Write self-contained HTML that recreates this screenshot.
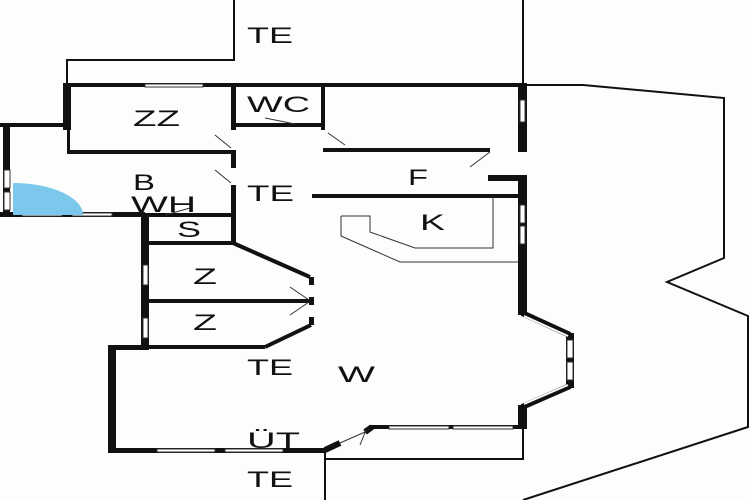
<!DOCTYPE html>
<html><head><style>
body{margin:0;background:#fff;}
svg{display:block;}
text{font-family:"Liberation Sans",sans-serif;font-size:22px;fill:#111;}
</style></head><body>
<svg width="750" height="500" viewBox="0 0 750 500">
<rect width="750" height="500" fill="#fdfdfd"/>
<g fill="none" stroke="#111" stroke-width="2">
<polyline points="67,85 67,60 234,60 234,0"/>
<line x1="523" y1="0" x2="523" y2="85"/>
<polyline points="527,85 583,85 724,98 724,258 667,282 748,316 748,427 523,500"/>
<polyline points="325,450 325,500"/>
<polyline points="325,459 523,459 523,427"/>
</g>
<g fill="none" stroke="#111" stroke-width="4">
<line x1="63" y1="85" x2="527" y2="85"/>
<line x1="67" y1="152" x2="233" y2="152"/>
<line x1="0" y1="125" x2="70" y2="125"/>
<line x1="233" y1="125" x2="323" y2="125"/>
<line x1="323" y1="150" x2="490" y2="150"/>
<line x1="145" y1="243" x2="233" y2="243"/>
<line x1="145" y1="301" x2="311" y2="301"/>
<line x1="108" y1="347" x2="265" y2="347"/>
<line x1="233" y1="243" x2="310" y2="277"/>
<line x1="265" y1="347" x2="311" y2="325"/>
<line x1="312" y1="196" x2="520" y2="196"/>
<line x1="145" y1="215" x2="233" y2="215"/>
<line x1="370" y1="427" x2="522" y2="427"/>
</g>
<g fill="#111">
<rect x="63" y="85" width="8" height="45"/>
<rect x="67" y="85" width="3" height="67"/>
<rect x="3" y="125" width="7" height="92"/>
<rect x="0" y="212" width="145" height="5"/>
<rect x="231" y="85" width="5" height="45"/>
<rect x="231" y="150" width="5" height="18"/>
<rect x="231" y="185" width="5" height="58"/>
<rect x="321" y="85" width="4" height="45"/>
<rect x="141" y="215" width="8" height="135"/>
<rect x="108" y="345" width="8" height="107"/>
<rect x="108" y="345" width="37" height="5"/>
<rect x="108" y="448" width="217" height="5"/>
<rect x="309" y="277" width="5" height="8"/>
<rect x="309" y="297" width="5" height="8"/>
<rect x="309" y="317" width="5" height="8"/>
<rect x="518" y="85" width="9" height="67"/>
<rect x="488" y="175" width="39" height="6"/>
<rect x="518" y="175" width="9" height="140"/>
<rect x="566" y="333" width="8" height="55"/>
<rect x="518" y="405" width="9" height="24"/>
</g>
<g stroke="#111" stroke-width="6" fill="none">
<line x1="522" y1="313" x2="570" y2="335"/>
<line x1="570" y1="386" x2="522" y2="407"/>
<line x1="325" y1="450" x2="340" y2="443"/>
<line x1="365" y1="432" x2="372" y2="427"/>
</g>
<g stroke="#fff" stroke-width="2" fill="none">
<line x1="524" y1="316" x2="568" y2="336"/>
<line x1="568" y1="385" x2="524" y2="404"/>
</g>
<g fill="#fff" stroke="#333" stroke-width="1">
<rect x="4" y="170" width="6" height="18"/><rect x="4" y="192" width="6" height="18"/>
<rect x="22" y="213" width="40" height="3"/><rect x="72" y="213" width="40" height="3"/>
<rect x="143" y="265" width="5" height="20"/><rect x="143" y="318" width="5" height="20"/>
<rect x="145" y="84" width="58" height="3"/>
<rect x="157" y="449" width="58" height="3"/><rect x="225" y="449" width="58" height="3"/>
<rect x="389" y="426" width="60" height="3"/><rect x="453" y="426" width="60" height="3"/>
<rect x="520" y="100" width="5" height="22"/>
<rect x="520" y="205" width="5" height="18"/><rect x="520" y="226" width="5" height="18"/>
<rect x="567" y="340" width="6" height="18"/><rect x="567" y="362" width="6" height="18"/>
</g>
<path d="M13,183 A70,32 0 0 1 83,215 L13,215 Z" fill="#7cc8ec"/>
<g stroke="#333" stroke-width="1" fill="none">
<line x1="215" y1="135" x2="231" y2="148"/>
<line x1="215" y1="170" x2="231" y2="183"/>
<line x1="265" y1="118" x2="295" y2="124"/>
<line x1="328" y1="133" x2="345" y2="145"/>
<line x1="470" y1="167" x2="490" y2="152"/>
<line x1="165" y1="215" x2="190" y2="208"/>
<line x1="290" y1="287" x2="309" y2="300"/>
<line x1="290" y1="315" x2="309" y2="302"/>
<line x1="340" y1="443" x2="365" y2="432"/>
<line x1="360" y1="445" x2="366" y2="430"/>
<polyline points="341,216 370,216 370,232 415,248 493,248 493,196"/>
<polyline points="341,216 341,236 400,262 518,262"/>
</g>
<g>
<text x="247" y="43" textLength="46" lengthAdjust="spacingAndGlyphs">TE</text>
<text x="133" y="126" textLength="47" lengthAdjust="spacingAndGlyphs">ZZ</text>
<text x="247" y="112" textLength="63" lengthAdjust="spacingAndGlyphs">WC</text>
<text x="133" y="190" textLength="22" lengthAdjust="spacingAndGlyphs">B</text>
<text x="131" y="212" textLength="65" lengthAdjust="spacingAndGlyphs">WH</text>
<text x="247" y="201" textLength="47" lengthAdjust="spacingAndGlyphs">TE</text>
<text x="408" y="185" textLength="20" lengthAdjust="spacingAndGlyphs">F</text>
<text x="420" y="230" textLength="25" lengthAdjust="spacingAndGlyphs">K</text>
<text x="177" y="237" textLength="24" lengthAdjust="spacingAndGlyphs">S</text>
<text x="193" y="284" textLength="24" lengthAdjust="spacingAndGlyphs">Z</text>
<text x="193" y="330" textLength="24" lengthAdjust="spacingAndGlyphs">Z</text>
<text x="247" y="375" textLength="46" lengthAdjust="spacingAndGlyphs">TE</text>
<text x="338" y="382" textLength="37" lengthAdjust="spacingAndGlyphs">W</text>
<text x="247" y="448" textLength="53" lengthAdjust="spacingAndGlyphs">ÜT</text>
<text x="247" y="487" textLength="46" lengthAdjust="spacingAndGlyphs">TE</text>
</g>
</svg>
</body></html>
